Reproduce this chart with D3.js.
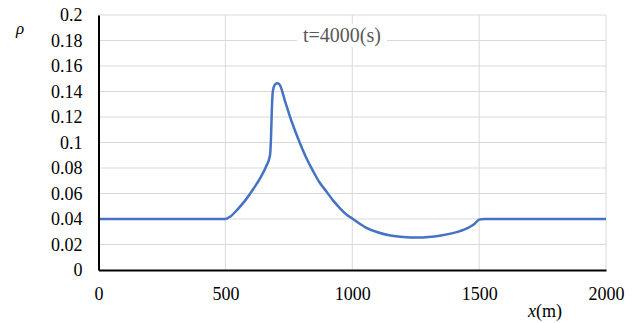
<!DOCTYPE html>
<html>
<head>
<meta charset="utf-8">
<script src="https://cdn.jsdelivr.net/npm/d3@7.9.0/dist/d3.min.js"></script>
<style>
  body { margin: 0; background: #fff; }
  svg { display: block; font-family: "Liberation Serif", "Times New Roman", serif; }
</style>
</head>
<body>
<svg id="chart" width="640" height="323"></svg>
<script>
// Density profile
const xs = [0, 500, 520, 550, 580, 610, 640, 660, 676, 680, 683, 686, 690, 697, 705, 715, 735, 755, 775, 794, 820, 847, 870, 899, 925, 952, 975, 1000, 1050, 1100, 1150, 1200, 1260, 1300, 1350, 1400, 1450, 1480, 1500, 1520, 2000];
const rho = [0.04, 0.04, 0.042, 0.048, 0.055, 0.0635, 0.073, 0.081, 0.090, 0.105, 0.125, 0.138, 0.143, 0.1458, 0.1465, 0.145, 0.1325, 0.120, 0.109, 0.0994, 0.0874, 0.0771, 0.069, 0.0614, 0.0544, 0.0484, 0.0438, 0.0404, 0.0337, 0.0296, 0.027, 0.0259, 0.0255, 0.0259, 0.0271, 0.0291, 0.0325, 0.0358, 0.0395, 0.04, 0.04];
const yTicks = [0, 0.02, 0.04, 0.06, 0.08, 0.1, 0.12, 0.14, 0.16, 0.18, 0.2];
const xTicks = [0, 500, 1000, 1500, 2000];
const title = 't=4000(s)';

const svg = d3.select('#chart');
const plotLeft = 98.5, plotRight = 606, plotTop = 15, plotBottom = 270;

const x = d3.scaleLinear().domain([0, 2000]).range([plotLeft, plotRight]);
const y = d3.scaleLinear().domain([0, 0.2]).range([plotBottom, plotTop]);

// gridlines
svg.append('g')
  .selectAll('line')
  .data(yTicks.slice(1))
  .join('line')
  .attr('x1', plotLeft).attr('x2', plotRight)
  .attr('y1', (d) => y(d)).attr('y2', (d) => y(d))
  .attr('stroke', '#d9d9d9').attr('stroke-width', 1);

svg.append('g')
  .selectAll('line')
  .data(xTicks.slice(1))
  .join('line')
  .attr('x1', (d) => x(d)).attr('x2', (d) => x(d))
  .attr('y1', plotTop).attr('y2', plotBottom)
  .attr('stroke', '#d9d9d9').attr('stroke-width', 1);

// title with white box covering gridlines
const titleText = svg.append('text')
  .attr('x', 342).attr('y', 42)
  .attr('text-anchor', 'middle')
  .attr('font-size', 20)
  .attr('fill', '#595959')
  .text(title);
const bb = titleText.node().getBBox();
svg.insert('rect', 'text')
  .attr('x', bb.x - 6).attr('y', bb.y)
  .attr('width', bb.width + 12).attr('height', bb.height)
  .attr('fill', '#fff');

// data line
const pts = xs.map((d, i) => [d, rho[i]]);
const line = d3.line()
  .x((d) => x(d[0]))
  .y((d) => y(d[1]))
  .curve(d3.curveMonotoneX);

svg.append('path')
  .datum(pts)
  .attr('d', line)
  .attr('fill', 'none')
  .attr('stroke', '#4472c4')
  .attr('stroke-width', 2.5)
  .attr('stroke-linejoin', 'round');

// axes
const yAxis = d3.axisLeft(y).tickValues(yTicks).tickSize(0).tickPadding(16).tickFormat(d3.format('~g'));
const xAxis = d3.axisBottom(x).tickValues(xTicks).tickSize(0).tickPadding(17).tickFormat(d3.format('d'));

const gy = svg.append('g').attr('transform', `translate(${plotLeft},0)`).call(yAxis);
const gx = svg.append('g').attr('transform', `translate(0,${plotBottom})`).call(xAxis);

[gx, gy].forEach((g) => {
  g.attr('font-family', null);
  g.select('.domain').attr('stroke', '#000').attr('stroke-width', 2);
  g.selectAll('text')
    .attr('font-family', '"Liberation Serif", serif')
    .attr('font-size', 18)
    .attr('fill', '#000');
});

// axis labels
svg.append('text')
  .attr('x', 20).attr('y', 34)
  .attr('text-anchor', 'middle')
  .attr('font-size', 17)
  .attr('font-style', 'italic')
  .text('ρ');

const xl = svg.append('text')
  .attr('x', 545).attr('y', 317)
  .attr('text-anchor', 'middle')
  .attr('font-size', 18);
xl.append('tspan').attr('font-style', 'italic').text('x');
xl.append('tspan').text('(m)');
</script>
</body>
</html>
